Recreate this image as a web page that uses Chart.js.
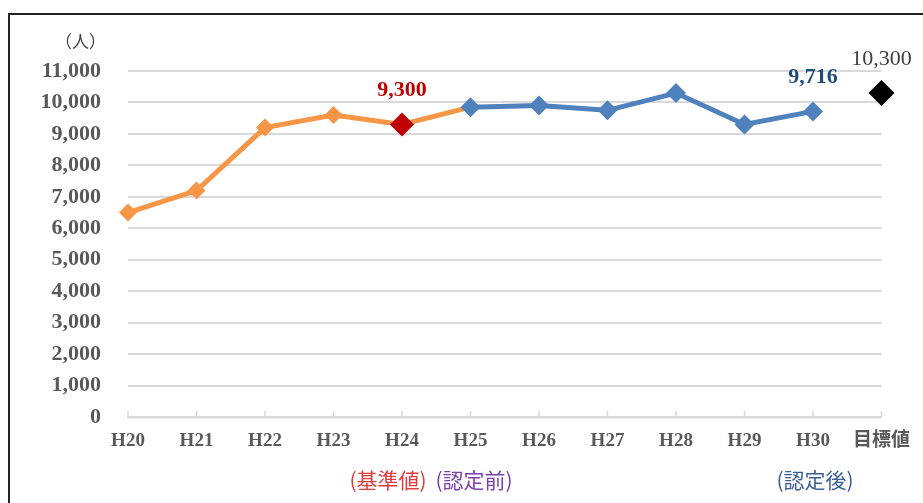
<!DOCTYPE html>
<html>
<head>
<meta charset="utf-8">
<script src="https://cdn.jsdelivr.net/npm/chart.js@4"></script>
<style>
html,body{margin:0;padding:0;background:#fff;overflow:hidden;}
#wrap{position:relative;width:923px;height:503px;}
#frame{position:absolute;left:8px;top:13px;width:1000px;height:600px;border:2px solid #222;box-sizing:border-box;pointer-events:none;}
</style>
</head>
<body>
<div id="wrap">
<canvas id="chart"></canvas>
<div id="frame"></div>
</div>
<script>
const labels = ["H20","H21","H22","H23","H24","H25","H26","H27","H28","H29","H30","目標値"];
// 認定前 (H20-H25)
const beforeValues = [6500,7200,9200,9600,9300,9850,null,null,null,null,null,null];
// 認定後 (H25-H30)
const afterValues = [null,null,null,null,null,9850,9900,9750,10300,9300,9716,null];
// 基準値
const baseValues = [null,null,null,null,9300,null,null,null,null,null,null,null];
// 目標値
const targetValues = [null,null,null,null,null,null,null,null,null,null,null,10300];
const yTicks = [0,1000,2000,3000,4000,5000,6000,7000,8000,9000,10000,11000];

const serif = "'Liberation Serif','Noto Sans CJK JP',serif";
const cjk = "'Noto Sans CJK JP',sans-serif";

/* inner tick marks on the x axis */
const innerTicks = {
id:"innerTicks",
beforeDatasetsDraw(chart){
const x = chart.scales.x;
const c = chart.ctx;
c.save();
c.strokeStyle="#d9d9d9";
c.lineWidth=1.5;
for(let i=0;i<labels.length;i++){
const px = x.getPixelForTick(i);
c.beginPath();
c.moveTo(px,x.top-6);
c.lineTo(px,x.top);
c.stroke();
}
c.restore();
}
};

/* value labels + notes */
const valueLabels = {
id:"valueLabels",
afterDatasetsDraw(chart){
const c = chart.ctx;
c.save();
c.textAlign="center";
c.textBaseline="middle";
chart.data.datasets.forEach((ds,di)=>{
if(!ds.labelAt) return;
const meta = chart.getDatasetMeta(di);
ds.labelAt.forEach(i=>{
const p = meta.data[i];
c.fillStyle = ds.labelColor;
c.font = ds.labelFont;
c.fillText(ds.data[i].toLocaleString("en-US"), p.x, p.y-34);
});
});

const x = chart.scales.x;
const noteY = 480;
c.font = "21px "+cjk;
const h24 = x.getPixelForValue(4);
c.fillStyle="#e03c3c";
c.fillText("(基準値)", h24-14, noteY);
c.fillStyle="#7d3fae";
c.fillText("(認定前)", h24+72, noteY);
c.fillStyle="#3a5e9a";
c.fillText("(認定後)", x.getPixelForValue(10)+2, noteY);

c.textAlign="left";
c.font = "17px "+cjk;
c.fillStyle="#404040";
c.fillText("（人）", 55, 42);
c.restore();
}
};

new Chart(document.getElementById("chart"),{
type:"line",
data:{
labels:labels,
datasets:[
{
data:baseValues,
borderColor:"#c00000",
backgroundColor:"#c00000",
pointStyle:"rectRot",
pointRadius:12,
pointBorderWidth:0,
showLine:false,
order:0,
labelAt:[4],
labelColor:"#c00000",
labelFont:"bold 22px "+serif
},
{
data:targetValues,
borderColor:"#000",
backgroundColor:"#000",
pointStyle:"rectRot",
pointRadius:13,
pointBorderWidth:0,
showLine:false,
order:0,
labelAt:[11],
labelColor:"#404040",
labelFont:"22px "+serif
},
{
data:afterValues,
borderColor:"#4f81bd",
backgroundColor:"#4f81bd",
borderWidth:5,
pointStyle:"rectRot",
pointRadius:10,
pointBorderWidth:0,
tension:0,
order:1,
labelAt:[10],
labelColor:"#1f4e79",
labelFont:"bold 22px "+serif
},
{
data:beforeValues,
borderColor:"#f79646",
backgroundColor:"#f79646",
borderWidth:5,
pointStyle:"rectRot",
pointRadius:[9,9,9,9,0,0,0,0,0,0,0,0],
pointBorderWidth:0,
tension:0,
order:2
}
]
},
options:{
responsive:true,
maintainAspectRatio:false,
animation:false,
layout:{padding:{top:71,right:37,left:0,bottom:0}},
plugins:{
legend:{display:false},
tooltip:{enabled:false}
},
scales:{
x:{
offset:false,
afterFit:(s)=>{s.height=86;},
grid:{display:false,drawTicks:false},
border:{display:true,color:"#d9d9d9",width:2.5},
ticks:{
color:"#595959",
padding:13,
maxRotation:0,
autoSkip:false,
font:{family:serif,size:19,weight:"bold"}
}
},
y:{
min:0,
max:11000,
afterFit:(s)=>{s.width=128;},
afterBuildTicks:(s)=>{s.ticks=yTicks.map(v=>({value:v}));},
grid:{color:"#d9d9d9",lineWidth:2,drawTicks:false},
border:{display:false},
ticks:{
color:"#595959",
padding:27,
font:{family:serif,size:22,weight:"bold"},
callback:(v)=>v.toLocaleString("en-US")
}
}
}
},
plugins:[innerTicks,valueLabels]
});
</script>
</body>
</html>
